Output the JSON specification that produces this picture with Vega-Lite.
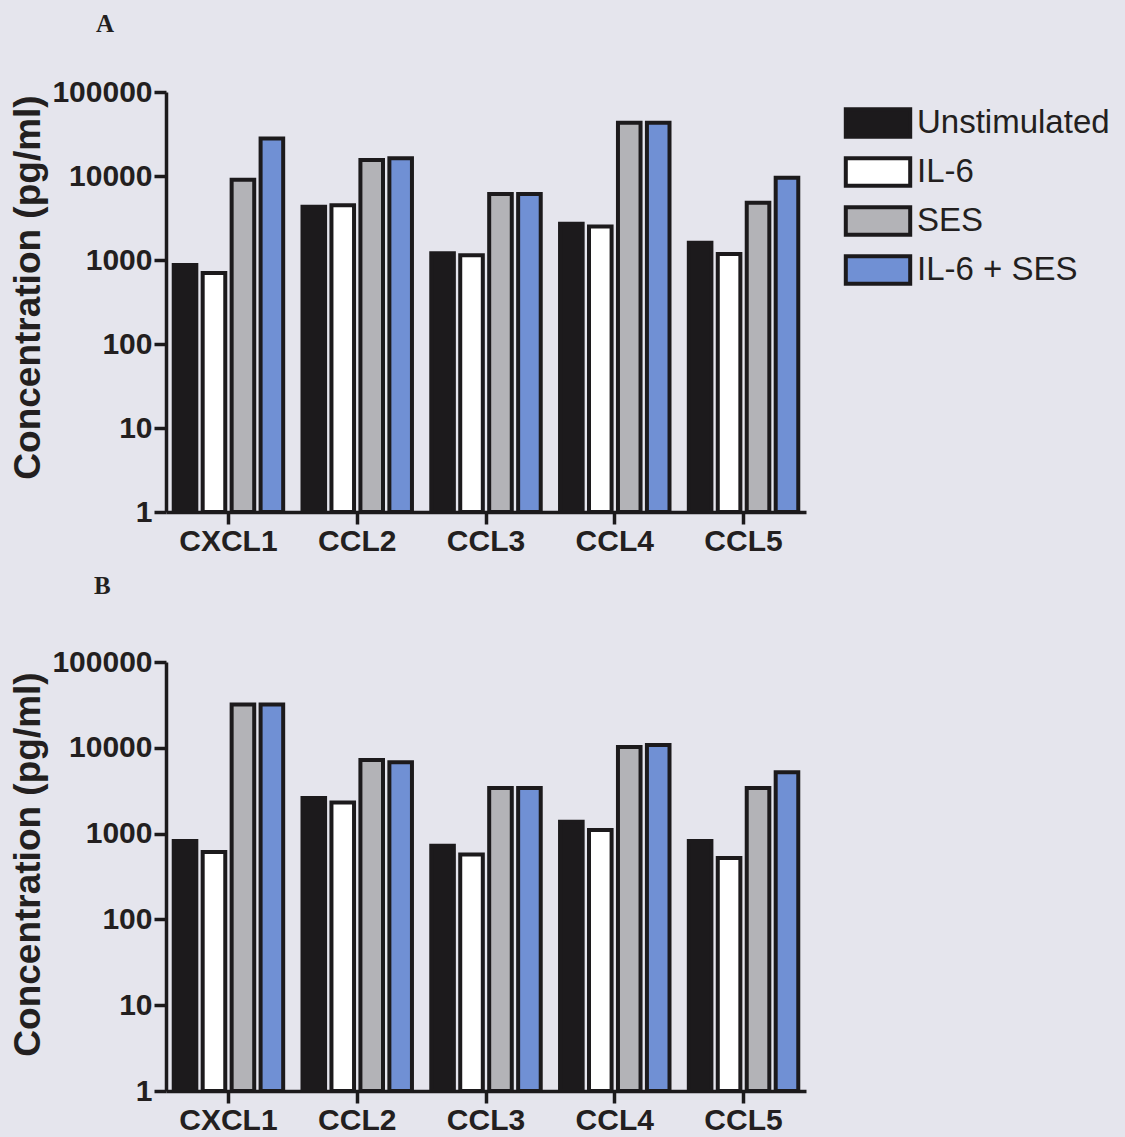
{
  "$schema": "https://vega.github.io/schema/vega-lite/v6.json",
  "background": "#e5e5ed",
  "padding": {"left": 9, "top": 12, "right": 40, "bottom": 20},
  "datasets": {
    "conc": [
      {"panel": "A", "chemokine": "CXCL1", "treatment": "Unstimulated", "value": 870},
      {"panel": "A", "chemokine": "CXCL1", "treatment": "IL-6", "value": 700},
      {"panel": "A", "chemokine": "CXCL1", "treatment": "SES", "value": 9000},
      {"panel": "A", "chemokine": "CXCL1", "treatment": "IL-6 + SES", "value": 28000},
      {"panel": "A", "chemokine": "CCL2", "treatment": "Unstimulated", "value": 4300},
      {"panel": "A", "chemokine": "CCL2", "treatment": "IL-6", "value": 4500},
      {"panel": "A", "chemokine": "CCL2", "treatment": "SES", "value": 15500},
      {"panel": "A", "chemokine": "CCL2", "treatment": "IL-6 + SES", "value": 16300},
      {"panel": "A", "chemokine": "CCL3", "treatment": "Unstimulated", "value": 1200},
      {"panel": "A", "chemokine": "CCL3", "treatment": "IL-6", "value": 1140},
      {"panel": "A", "chemokine": "CCL3", "treatment": "SES", "value": 6100},
      {"panel": "A", "chemokine": "CCL3", "treatment": "IL-6 + SES", "value": 6100},
      {"panel": "A", "chemokine": "CCL4", "treatment": "Unstimulated", "value": 2700},
      {"panel": "A", "chemokine": "CCL4", "treatment": "IL-6", "value": 2500},
      {"panel": "A", "chemokine": "CCL4", "treatment": "SES", "value": 43000},
      {"panel": "A", "chemokine": "CCL4", "treatment": "IL-6 + SES", "value": 43000},
      {"panel": "A", "chemokine": "CCL5", "treatment": "Unstimulated", "value": 1600},
      {"panel": "A", "chemokine": "CCL5", "treatment": "IL-6", "value": 1180},
      {"panel": "A", "chemokine": "CCL5", "treatment": "SES", "value": 4800},
      {"panel": "A", "chemokine": "CCL5", "treatment": "IL-6 + SES", "value": 9500},
      {"panel": "B", "chemokine": "CXCL1", "treatment": "Unstimulated", "value": 820},
      {"panel": "B", "chemokine": "CXCL1", "treatment": "IL-6", "value": 610},
      {"panel": "B", "chemokine": "CXCL1", "treatment": "SES", "value": 32000},
      {"panel": "B", "chemokine": "CXCL1", "treatment": "IL-6 + SES", "value": 32000},
      {"panel": "B", "chemokine": "CCL2", "treatment": "Unstimulated", "value": 2600},
      {"panel": "B", "chemokine": "CCL2", "treatment": "IL-6", "value": 2300},
      {"panel": "B", "chemokine": "CCL2", "treatment": "SES", "value": 7200},
      {"panel": "B", "chemokine": "CCL2", "treatment": "IL-6 + SES", "value": 6800},
      {"panel": "B", "chemokine": "CCL3", "treatment": "Unstimulated", "value": 720},
      {"panel": "B", "chemokine": "CCL3", "treatment": "IL-6", "value": 570},
      {"panel": "B", "chemokine": "CCL3", "treatment": "SES", "value": 3400},
      {"panel": "B", "chemokine": "CCL3", "treatment": "IL-6 + SES", "value": 3400},
      {"panel": "B", "chemokine": "CCL4", "treatment": "Unstimulated", "value": 1370},
      {"panel": "B", "chemokine": "CCL4", "treatment": "IL-6", "value": 1100},
      {"panel": "B", "chemokine": "CCL4", "treatment": "SES", "value": 10200},
      {"panel": "B", "chemokine": "CCL4", "treatment": "IL-6 + SES", "value": 10800},
      {"panel": "B", "chemokine": "CCL5", "treatment": "Unstimulated", "value": 820},
      {"panel": "B", "chemokine": "CCL5", "treatment": "IL-6", "value": 520},
      {"panel": "B", "chemokine": "CCL5", "treatment": "SES", "value": 3400},
      {"panel": "B", "chemokine": "CCL5", "treatment": "IL-6 + SES", "value": 5200}
    ]
  },
  "spacing": 18,
  "resolve": {"legend": {"color": "independent"}},
  "vconcat": [
    {
      "title": {"text": "A", "anchor": "start", "frame": "group", "dx": -70, "offset": 40},
      "data": {"name": "conc"},
      "transform": [{"filter": "datum.panel === 'A'"}],
      "width": 640,
      "height": 420,
      "mark": {"type": "bar", "stroke": "#1c1a1c", "strokeWidth": 4},
      "encoding": {
        "x": {"field": "chemokine", "type": "nominal", "sort": ["CXCL1", "CCL2", "CCL3", "CCL4", "CCL5"],
              "scale": {"paddingInner": 0.15, "paddingOuter": 0.06},
              "axis": {"title": null, "labelAngle": 0}},
        "xOffset": {"field": "treatment", "type": "nominal", "sort": ["Unstimulated", "IL-6", "SES", "IL-6 + SES"],
                    "scale": {"paddingInner": 0.22}},
        "y": {"field": "value", "type": "quantitative",
              "scale": {"type": "log", "domain": [1, 100000]},
              "axis": {"values": [1, 10, 100, 1000, 10000, 100000], "format": "d", "title": "Concentration (pg/ml)", "titleY": 195}},
        "y2": {"datum": 1},
        "color": {"field": "treatment", "type": "nominal",
                  "scale": {"domain": ["Unstimulated", "IL-6", "SES", "IL-6 + SES"], "range": ["#1c1a1c", "#ffffff", "#b3b3b7", "#7090d4"]},
                  "legend": {"title": null, "orient": "none", "legendX": 687, "legendY": 6,
                             "symbolType": "M-1.4,-0.6H1.4V0.6H-1.4Z", "symbolSize": 2116,
                             "symbolStrokeColor": "#1c1a1c", "symbolStrokeWidth": 4, "symbolOpacity": 1,
                             "labelFont": "Liberation Sans", "labelFontSize": 33, "labelColor": "#231f20",
                             "labelOffset": 14, "rowPadding": 2, "labelLimit": 400}}
      }
    },
    {
      "title": {"text": "B", "anchor": "start", "frame": "group", "dx": -72, "offset": 48},
      "data": {"name": "conc"},
      "transform": [{"filter": "datum.panel === 'B'"}],
      "width": 640,
      "height": 429,
      "mark": {"type": "bar", "stroke": "#1c1a1c", "strokeWidth": 4},
      "encoding": {
        "x": {"field": "chemokine", "type": "nominal", "sort": ["CXCL1", "CCL2", "CCL3", "CCL4", "CCL5"],
              "scale": {"paddingInner": 0.15, "paddingOuter": 0.06},
              "axis": {"title": null, "labelAngle": 0}},
        "xOffset": {"field": "treatment", "type": "nominal", "sort": ["Unstimulated", "IL-6", "SES", "IL-6 + SES"],
                    "scale": {"paddingInner": 0.22}},
        "y": {"field": "value", "type": "quantitative",
              "scale": {"type": "log", "domain": [1, 100000]},
              "axis": {"values": [1, 10, 100, 1000, 10000, 100000], "format": "d", "title": "Concentration (pg/ml)", "titleY": 202}},
        "y2": {"datum": 1},
        "color": {"field": "treatment", "type": "nominal",
                  "scale": {"domain": ["Unstimulated", "IL-6", "SES", "IL-6 + SES"], "range": ["#1c1a1c", "#ffffff", "#b3b3b7", "#7090d4"]},
                  "legend": null}
      }
    }
  ],
  "config": {
    "view": {"stroke": null},
    "title": {"font": "Liberation Serif", "fontWeight": "bold", "fontSize": 25, "color": "#231f20"},
    "axis": {"grid": false, "domainColor": "#1c1a1c", "domainWidth": 3.5, "tickColor": "#1c1a1c", "tickWidth": 3.5, "tickSize": 12,
             "labelFont": "Liberation Sans", "labelFontWeight": "bold", "labelFontSize": 30, "labelColor": "#231f20", "labelPadding": 2,
             "titleFont": "Liberation Sans", "titleFontWeight": "bold", "titleFontSize": 37, "titleColor": "#231f20", "titlePadding": 4}
  }
}
